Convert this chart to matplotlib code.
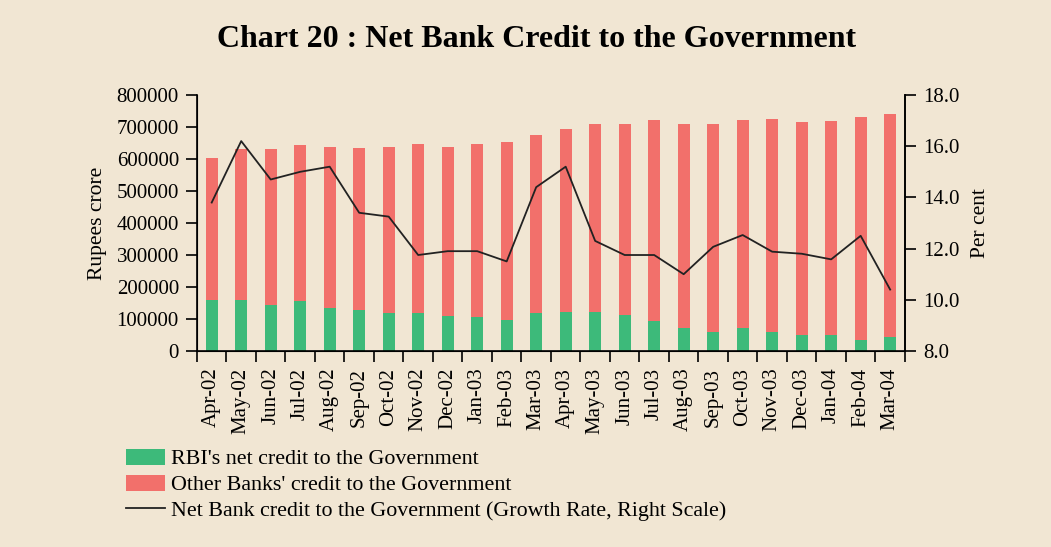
import matplotlib.pyplot as plt
import numpy as np

months = ['Apr-02', 'May-02', 'Jun-02', 'Jul-02', 'Aug-02', 'Sep-02', 'Oct-02', 'Nov-02',
          'Dec-02', 'Jan-03', 'Feb-03', 'Mar-03', 'Apr-03', 'May-03', 'Jun-03', 'Jul-03',
          'Aug-03', 'Sep-03', 'Oct-03', 'Nov-03', 'Dec-03', 'Jan-04', 'Feb-04', 'Mar-04']

total = [603000, 631000, 631000, 644000, 637000, 634000, 637000, 647000,
         637000, 647000, 653000, 675000, 694000, 709000, 709000, 722000,
         709000, 709000, 722000, 725000, 716000, 719000, 731000, 741000]
# RBI's net credit (green part)
rbi = [160000, 160000, 144000, 156000, 135000, 129000, 119000, 119000,
       110000, 106000, 98000, 119000, 123000, 123000, 112000, 94000,
       73000, 60000, 73000, 60000, 50000, 50000, 35000, 44000]
other = [t - r for t, r in zip(total, rbi)]
# growth rate, per cent (right scale)
growth = [13.8, 16.2, 14.7, 15.0, 15.2, 13.4, 13.25, 11.75,
          11.9, 11.9, 11.5, 14.4, 15.2, 12.3, 11.75, 11.75,
          11.0, 12.07, 12.53, 11.88, 11.8, 11.58, 12.5, 10.4]

bg = '#f1e6d3'
green = '#3dba7a'
red = '#f2706b'
fs = 15

plt.rcParams['font.family'] = ['Liberation Serif', 'DejaVu Serif']

fig = plt.figure(figsize=(10.51, 5.47), dpi=100, facecolor=bg)
ax = fig.add_axes([0.1874, 0.3583, 0.861 - 0.1874, 0.8263 - 0.3583])
ax.set_facecolor(bg)

x = np.arange(len(months))
b1 = ax.bar(x, rbi, width=0.4, color=green, label="RBI's net credit to the Government")
b2 = ax.bar(x, other, width=0.4, bottom=rbi, color=red,
            label="Other Banks' credit to the Government")

ax.set_xlim(-0.5, len(months) - 0.5)
ax.set_ylim(0, 800000)
ax.set_yticks(np.arange(0, 800001, 100000))
ax.set_yticklabels([str(v) for v in range(0, 800001, 100000)])
ax.set_xticks(x)
ax.set_xticklabels(months, rotation=90)
ax.set_xticks(np.arange(-0.5, len(months), 1), minor=True)
ax.tick_params(axis='x', which='major', length=0, pad=12, labelsize=fs)
ax.tick_params(axis='x', which='minor', length=8, width=1.2, direction='out')
ax.tick_params(axis='y', length=8, width=1.2, labelsize=fs, pad=5)
ax.set_ylabel('Rupees crore', fontsize=fs + 0.5, labelpad=7)
ax.spines['top'].set_visible(False)
for s in ['left', 'bottom', 'right']:
    ax.spines[s].set_linewidth(1.2)

ax2 = ax.twinx()
ln, = ax2.plot(x, growth, color='#222222', lw=1.3,
               label='Net Bank credit to the Government (Growth Rate, Right Scale)')
ax2.set_ylim(8, 18)
ax2.set_yticks(np.arange(8, 18.1, 2))
ax2.set_yticklabels(['%.1f' % v for v in np.arange(8, 18.1, 2)])
ax2.tick_params(axis='y', length=8, width=1.2, labelsize=fs, pad=5)
ax2.set_ylabel('Per cent', fontsize=fs + 0.5, labelpad=8)
ax2.spines['top'].set_visible(False)
ax2.spines['right'].set_linewidth(1.2)

fig.text(0.511, 0.927, 'Chart 20 : Net Bank Credit to the Government',
         ha='center', va='center', fontsize=23, fontweight='bold')

leg = fig.legend(handles=[b1, b2, ln], loc='upper left', bbox_to_anchor=(0.112, 0.196),
                 frameon=False, fontsize=15.8, handlelength=1.75, handleheight=0.75,
                 handletextpad=0.3, labelspacing=0.24, borderaxespad=0)

fig.savefig('out.png', dpi=100, facecolor=bg)
